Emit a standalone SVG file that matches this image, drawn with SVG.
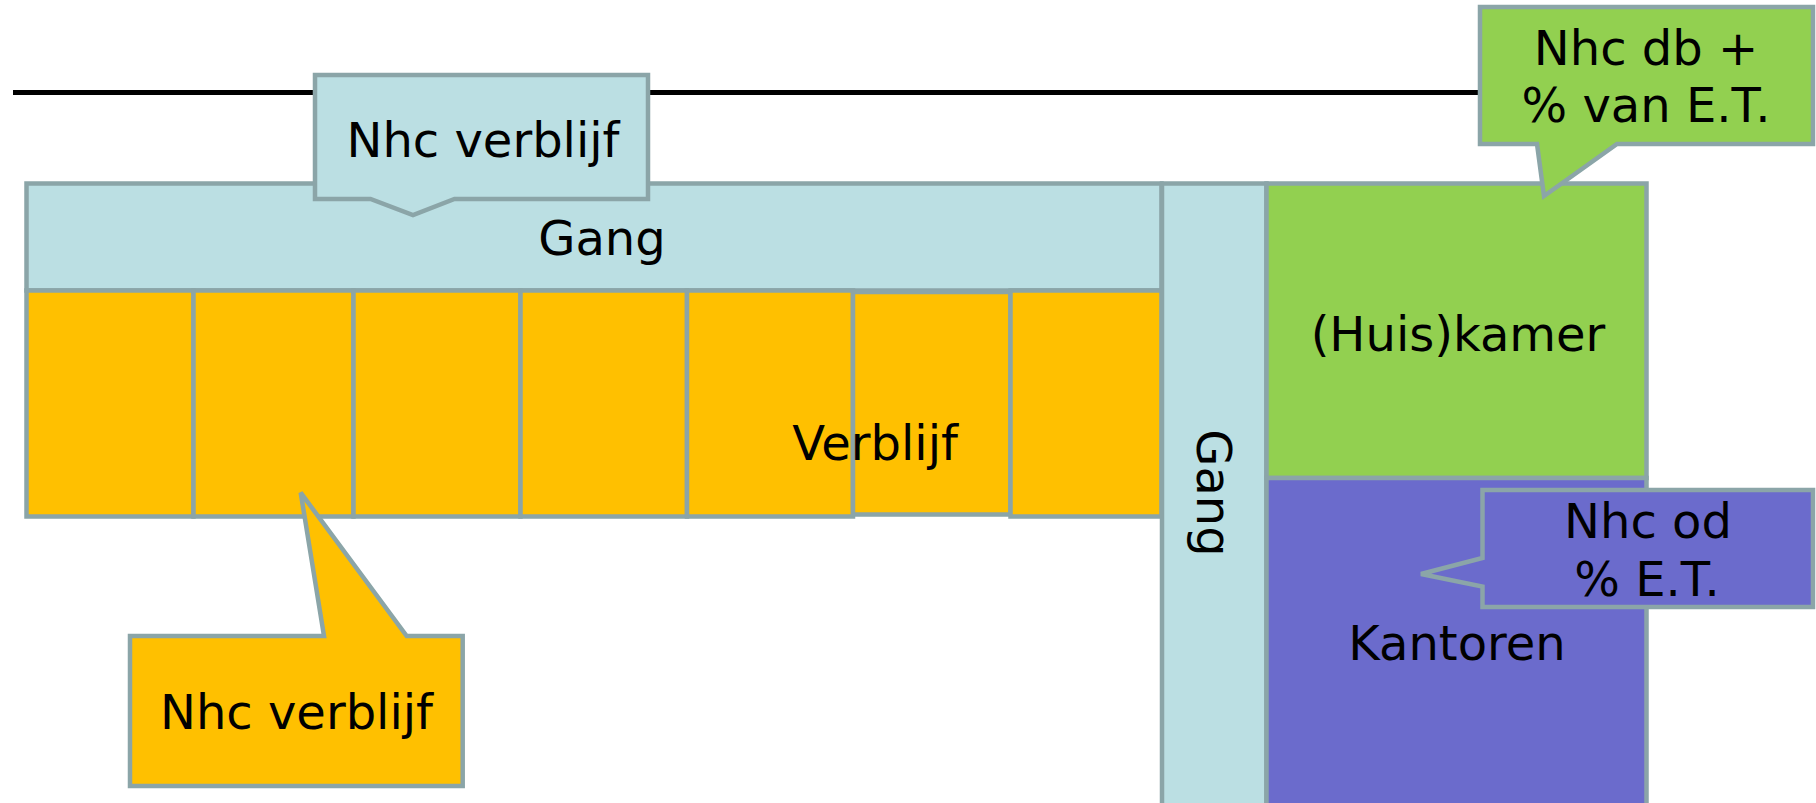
<svg xmlns="http://www.w3.org/2000/svg" width="1816" height="803" viewBox="0 0 1816 803">
  <style>
    .edge { stroke: #8BA5A8; stroke-width: 4.5; stroke-linejoin: miter; }
    .blue { fill: #BBDFE3; }
    .yellow { fill: #FFC000; }
    .green { fill: #92D050; }
    .purple { fill: #6B6BCC; }
    text { font-family: "DejaVu Sans", Verdana, sans-serif; font-size: 48px; fill: #000; text-anchor: middle; }
  </style>
  <rect width="1816" height="803" fill="#fff"/>

  <!-- horizontal reference line -->
  <g id="connectors">
    <line x1="13" y1="92.5" x2="1482" y2="92.5" stroke="#000" stroke-width="5"/>
  </g>

  <!-- corridor along the rooms -->
  <g id="gang-horizontal">
    <rect class="blue edge" x="26.5" y="183.5" width="1135" height="107"/>
    <text x="602" y="255">Gang</text>
  </g>

  <!-- row of rooms -->
  <g id="verblijf">
    <rect class="yellow edge" x="26.5" y="290.5" width="167" height="226"/>
    <rect class="yellow edge" x="193.5" y="290.5" width="160" height="226"/>
    <rect class="yellow edge" x="353.5" y="290.5" width="167" height="226"/>
    <rect class="yellow edge" x="520.5" y="290.5" width="166.5" height="226"/>
    <rect class="yellow edge" x="687" y="290.5" width="166" height="226"/>
    <rect class="yellow edge" x="853" y="292" width="157.5" height="222.5"/>
    <rect class="yellow edge" x="1010.5" y="290.5" width="151" height="226"/>
    <text x="875" y="460">Verblijf</text>
  </g>

  <!-- vertical corridor -->
  <g id="gang-vertical">
    <rect class="blue edge" x="1162" y="183.5" width="104.5" height="630"/>
    <text transform="translate(1197,493) rotate(90)" x="0" y="0">Gang</text>
  </g>

  <g id="huiskamer">
    <rect class="green edge" x="1266.5" y="183.5" width="380" height="294.5"/>
    <text x="1458" y="350.5">(Huis)kamer</text>
  </g>

  <g id="kantoren">
    <rect class="purple edge" x="1266.5" y="478" width="380" height="335"/>
    <text x="1457" y="660">Kantoren</text>
  </g>

  <!-- callouts -->
  <g id="callout-gang">
    <path class="blue edge" d="M315,75 H648 V199 H454.5 L413,215 L370.5,199 H315 Z"/>
    <text x="483" y="157">Nhc verblijf</text>
  </g>

  <g id="callout-huiskamer">
    <path class="green edge" d="M1480,7 H1813 V144 H1617 L1544,196 L1537,144 H1480 Z"/>
    <text x="1646" y="65">Nhc db +</text>
    <text x="1646" y="121.5">% van E.T.</text>
  </g>

  <g id="callout-kantoren">
    <path class="purple edge" d="M1482.5,490 H1813 V607 H1482.5 V586.5 L1421,574 L1482.5,558 Z"/>
    <text x="1648" y="538">Nhc od</text>
    <text x="1647" y="596">% E.T.</text>
  </g>

  <g id="callout-verblijf">
    <path class="yellow edge" d="M130,636 H324 L300.7,492.7 L406.7,636 H462.7 V786 H130 Z"/>
    <text x="296.5" y="729">Nhc verblijf</text>
  </g>
</svg>
